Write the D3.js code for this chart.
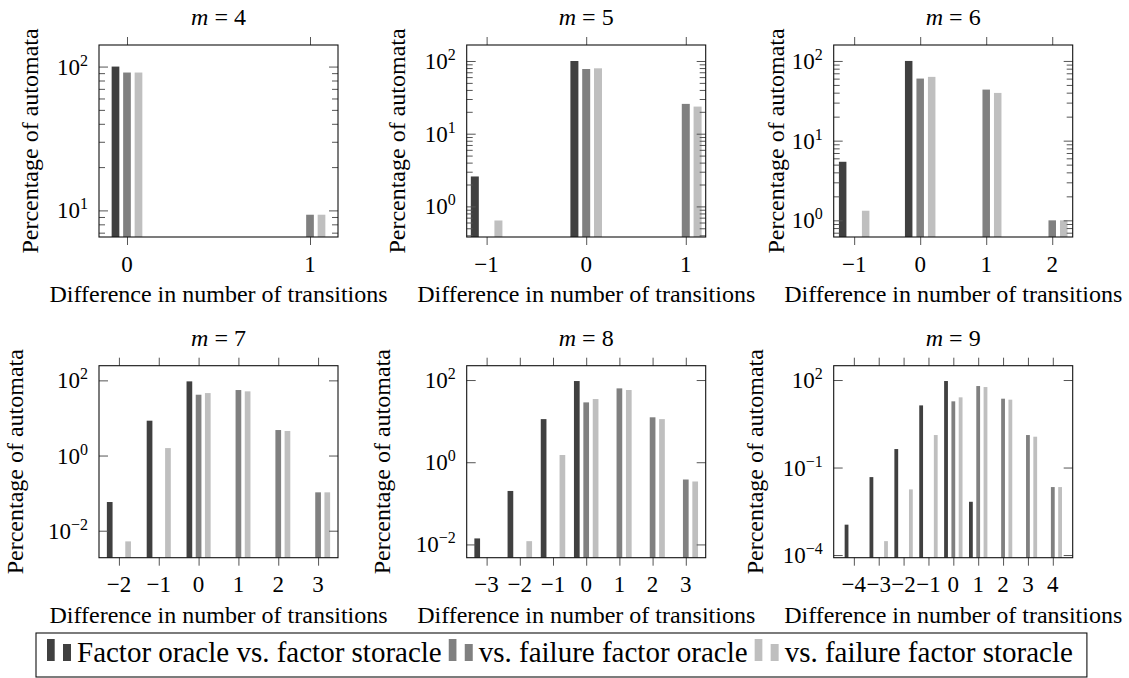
<html>
  <head>
    <meta charset="UTF-8" />
    <script src="https://d3js.org/d3.v7.min.js"></script>
  </head>

  <body style="margin:0">
    <script>
      var width = 1129,
        height = 678;
      var fontName = "Liberation Serif";

      // ---- data ----
      var mValues = [4, 5, 6, 7, 8, 9];

      var diffCategories = [
        [0, 1],
        [-1, 0, 1],
        [-1, 0, 1, 2],
        [-2, -1, 0, 1, 2, 3],
        [-3, -2, -1, 0, 1, 2, 3],
        [-4, -3, -2, -1, 0, 1, 2, 3, 4]
      ];

      var seriesNames = [
        "Factor oracle vs. factor storacle",
        "vs. failure factor oracle",
        "vs. failure factor storacle"
      ];

      // percentage of automata, one row per m, one value per category (0 = no bar)
      var factorVsStoracle = [
        [100, 0],
        [2.58, 100, 0],
        [5.43, 100, 0, 0],
        [0.058, 8.45, 94, 0, 0, 0],
        [0.014, 0.2, 11.2, 94.6, 0, 0, 0],
        [0.0011, 0.047, 0.43, 13.5, 92.4, 0.0067, 0, 0, 0]
      ];
      var vsFailureOracle = [
        [90.9, 9.33],
        [0, 77.6, 25.7],
        [0, 60.1, 43.7, 1.0],
        [0, 0, 41.5, 55.3, 4.77, 0.105],
        [0, 0, 0, 28.6, 62.7, 12.4, 0.38],
        [0, 0, 0, 0, 18.6, 62.2, 22.9, 1.3, 0.0214]
      ];
      var vsFailureStoracle = [
        [90.9, 9.33],
        [0.64, 79.3, 23.6],
        [1.32, 63.1, 39.7, 1.0],
        [0.0052, 1.58, 45.9, 51, 4.5, 0.105],
        [0, 0.012, 1.5, 34.5, 57.2, 11.2, 0.34],
        [0, 0.0003, 0.0178, 1.3, 25.5, 57.5, 21.2, 1.14, 0.0214]
      ];

      var yTickValues = [
        [10, 100],
        [1, 10, 100],
        [1, 10, 100],
        [0.01, 1, 100],
        [0.01, 1, 100],
        [0.0001, 0.1, 100]
      ];

      // ---- layout ----
      var colors = ["#404040", "#808080", "#bfbfbf"];
      var colLeft = [99, 466.7, 833.7],
        rowTop = [45, 365.7],
        plotW = 239,
        plotH = 192;
      var xLimits = [[-0.153, 1.153], [-1.2, 1.2], [-1.31, 2.31], [-2.5, 3.5], [-3.6, 3.6], [-4.81, 4.8]];
      var yLogLimits = [[0.815, 2.15], [-0.421, 2.22], [-0.209, 2.2], [-2.718, 2.39], [-2.323, 2.349], [-4.091, 2.491]];
      var barWidths = [7.7, 8, 7.5, 5.7, 5.7, 3.8];
      var barShifts = [11.5, 11.8, 11.5, 9.2, 9.4, 7.3];
      var ylabelOffsets = [61, 62, 50, 76, 77, 71];
      var showMinor = [true, true, true, false, false, false];
      var tickColor = "#555";

      var svg = d3
        .select("body")
        .append("svg")
        .attr("width", width)
        .attr("height", height)
        .attr("font-family", fontName);

      // every text goes through here so it gets the serif face
      function addText(parent) {
        return parent
          .append("text")
          .attr("font-family", fontName)
          .style("font-family", "'" + fontName + "'")
          .attr("fill", "#000");
      }

      // pick font sizes so the serif face matches the reference widths
      function fitSize(str, target) {
        var t = addText(svg).attr("font-size", 30).text(str);
        var w = t.node().getComputedTextLength();
        t.remove();
        return Math.round((30 * target) / w);
      }
      var labelSize = fitSize("Difference in number of transitions", 343);
      var tickSize = labelSize - 1;
      var supSize = Math.round(tickSize * 0.7);
      var legendSize = fitSize("vs. failure factor storacle", 290);

      function minus(d) {
        return d < 0 ? "\u2212" + -d : String(d);
      }

      var seriesData = [factorVsStoracle, vsFailureOracle, vsFailureStoracle];

      mValues.forEach(function (m, p) {
        var left = colLeft[p % 3],
          top = rowTop[Math.floor(p / 3)];
        var cats = diffCategories[p];

        var g = svg.append("g").attr("transform", "translate(" + left + "," + top + ")");

        var x = d3.scaleLinear().domain(xLimits[p]).range([0, plotW]);
        var y = d3
          .scaleLog()
          .domain([Math.pow(10, yLogLimits[p][0]), Math.pow(10, yLogLimits[p][1])])
          .range([plotH, 0]);

        // bars
        var bars = [];
        seriesData.forEach(function (series, s) {
          series[p].forEach(function (v, i) {
            if (v > 0) bars.push({ cat: cats[i], s: s, v: v });
          });
        });

        g.selectAll("rect.bar")
          .data(bars)
          .enter()
          .append("rect")
          .attr("class", "bar")
          .attr("x", function (d) {
            return x(d.cat) + (d.s - 1) * barShifts[p] - barWidths[p] / 2;
          })
          .attr("y", function (d) {
            return y(d.v);
          })
          .attr("width", barWidths[p])
          .attr("height", function (d) {
            return plotH - y(d.v);
          })
          .attr("fill", function (d) {
            return colors[d.s];
          });

        // x ticks, outside, top and bottom (labels drawn separately)
        g.append("g")
          .attr("transform", "translate(0," + plotH + ")")
          .call(d3.axisBottom(x).tickValues(cats).tickSize(8).tickFormat(""))
          .call(function (a) {
            a.select(".domain").remove();
            a.selectAll("line").attr("stroke", tickColor);
          });
        g.append("g")
          .call(d3.axisTop(x).tickValues(cats).tickSize(8).tickFormat(""))
          .call(function (a) {
            a.select(".domain").remove();
            a.selectAll("line").attr("stroke", tickColor);
          });
        cats.forEach(function (c) {
          addText(g)
            .attr("x", x(c))
            .attr("y", plotH + 34.5)
            .attr("text-anchor", "middle")
            .attr("font-size", tickSize)
            .text(minus(c));
        });

        // y ticks, inside, both sides
        var major = yTickValues[p];
        var minor = [];
        if (showMinor[p]) {
          for (var k = Math.floor(yLogLimits[p][0]); k <= Math.ceil(yLogLimits[p][1]); k++) {
            for (var j = 2; j <= 9; j++) {
              var v = j * Math.pow(10, k);
              if (Math.log10(v) > yLogLimits[p][0] && Math.log10(v) < yLogLimits[p][1]) minor.push(v);
            }
          }
        }
        [
          [d3.axisLeft, 0],
          [d3.axisRight, plotW]
        ].forEach(function (side) {
          g.append("g")
            .attr("transform", "translate(" + side[1] + ",0)")
            .call(side[0](y).tickValues(major).tickSize(-9).tickFormat(""))
            .call(function (a) {
              a.select(".domain").remove();
              a.selectAll("line").attr("stroke", tickColor);
            });
          if (minor.length)
            g.append("g")
              .attr("transform", "translate(" + side[1] + ",0)")
              .call(side[0](y).tickValues(minor).tickSize(-6).tickFormat(""))
              .call(function (a) {
                a.select(".domain").remove();
                a.selectAll("line").attr("stroke", tickColor);
              });
        });

        // y tick labels 10^k
        major.forEach(function (v) {
          var t = addText(g)
            .attr("x", -11)
            .attr("y", y(v) + 8)
            .attr("text-anchor", "end")
            .attr("font-size", tickSize)
            .text("10");
          t.append("tspan")
            .attr("dy", -9)
            .attr("font-size", supSize)
            .text(minus(Math.round(Math.log10(v))));
        });

        // frame
        g.append("rect")
          .attr("width", plotW)
          .attr("height", plotH)
          .attr("fill", "none")
          .attr("stroke", "#111")
          .attr("stroke-width", 1.1);

        // title
        var title = addText(g)
          .attr("x", plotW / 2)
          .attr("y", -20)
          .attr("text-anchor", "middle")
          .attr("font-size", labelSize);
        title.append("tspan").attr("font-style", "italic").text("m");
        title.append("tspan").text(" = " + m);

        // axis labels
        addText(g)
          .attr("x", plotW / 2)
          .attr("y", plotH + 65)
          .attr("text-anchor", "middle")
          .attr("font-size", labelSize)
          .text("Difference in number of transitions");
        addText(g)
          .attr("transform", "translate(" + -ylabelOffsets[p] + "," + plotH / 2 + ") rotate(-90)")
          .attr("text-anchor", "middle")
          .attr("font-size", labelSize)
          .text("Percentage of automata");
      });

      // legend
      var legend = svg.append("g");
      var lx = 47;
      seriesNames.forEach(function (name, s) {
        legend.append("rect").attr("x", lx).attr("y", 639).attr("width", 7.7).attr("height", 22).attr("fill", colors[s]);
        legend.append("rect").attr("x", lx + 16).attr("y", 644).attr("width", 8).attr("height", 17).attr("fill", colors[s]);
        var t = addText(legend)
          .attr("x", lx + 30)
          .attr("y", 662)
          .attr("font-size", legendSize)
          .text(name);
        lx += 30 + t.node().getComputedTextLength() + 7;
      });
      legend
        .insert("rect", ":first-child")
        .attr("x", 36)
        .attr("y", 633)
        .attr("width", lx - 7 + 14 - 36)
        .attr("height", 44)
        .attr("fill", "#fff")
        .attr("stroke", "#111")
        .attr("stroke-width", 1.1);
    </script>
  </body>
</html>
